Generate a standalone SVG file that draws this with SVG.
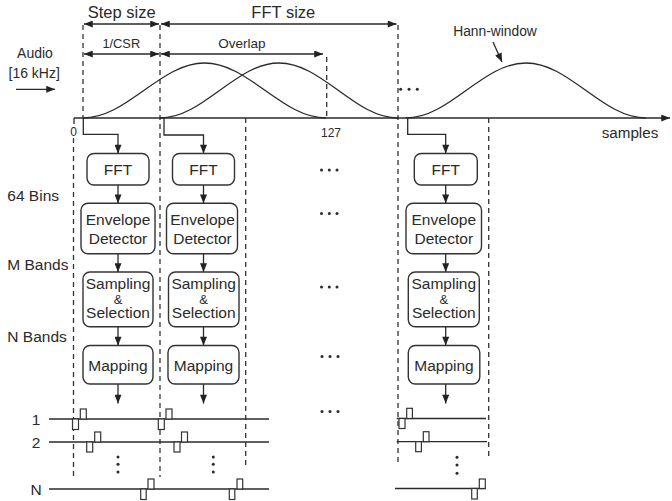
<svg xmlns="http://www.w3.org/2000/svg" width="672" height="501" viewBox="0 0 672 501">
<defs>
<style>
text{font-family:"Liberation Sans",Arial,sans-serif;fill:#2a2a2a}
.lbl{font-size:15.5px}
.bx text{font-size:15.5px;text-anchor:middle}
.bx text.amp{font-size:13px}
.bx rect{fill:#fff;stroke:#333;stroke-width:1.4}
.ln{stroke:#2a2a2a;stroke-width:1.3;fill:none}
.dash{stroke:#333;stroke-width:1.3;stroke-dasharray:5 4;fill:none}
.pl{fill:#fff;stroke:#333;stroke-width:1.2}
.dot{fill:#2a2a2a}
</style>
<marker id="ah" viewBox="0 0 10 8" refX="10" refY="4" markerWidth="10" markerHeight="7" orient="auto-start-reverse" markerUnits="userSpaceOnUse"><path d="M0,0 L10,4 L0,8 z" fill="#222"/></marker>
</defs>
<rect width="672" height="501" fill="#fff"/>

<!-- dashed guides -->
<g id="guides">
<line class="dash" x1="83" y1="25" x2="83" y2="118"/>
<line class="dash" x1="160" y1="25" x2="160" y2="477"/>
<line class="dash" x1="326.7" y1="57" x2="326.7" y2="118"/>
<line class="dash" x1="398" y1="25" x2="398" y2="465"/>
<line class="dash" x1="73.5" y1="138" x2="73.5" y2="479"/>
<line class="dash" x1="245.7" y1="118" x2="245.7" y2="465"/>
<line class="dash" x1="488.7" y1="118" x2="488.7" y2="459"/>
</g>

<!-- top labels and dimension arrows -->
<g id="dims">
<text x="121.7" y="18" style="font-size:16.5px" text-anchor="middle">Step size</text>
<text x="283.3" y="18" style="font-size:16.5px" text-anchor="middle">FFT size</text>
<text x="121.3" y="47.8" style="font-size:12.8px" text-anchor="middle">1/CSR</text>
<text x="242" y="48" style="font-size:13.5px" text-anchor="middle">Overlap</text>
<line class="ln" x1="84" y1="24" x2="159" y2="24" marker-start="url(#ah)" marker-end="url(#ah)"/>
<line class="ln" x1="161" y1="24" x2="396.5" y2="24" marker-start="url(#ah)" marker-end="url(#ah)"/>
<line class="ln" x1="84" y1="54" x2="159" y2="54" marker-start="url(#ah)" marker-end="url(#ah)"/>
<line class="ln" x1="161" y1="54" x2="323" y2="54" marker-start="url(#ah)" marker-end="url(#ah)"/>
</g>

<!-- audio input -->
<g id="audio">
<text x="35" y="58.3" style="font-size:14px" text-anchor="middle">Audio</text>
<text x="34.2" y="77.7" style="font-size:14px" text-anchor="middle">[16 kHz]</text>
<line class="ln" x1="16" y1="89.3" x2="55" y2="89.3" marker-end="url(#ah)"/>
</g>

<!-- windows and axis -->
<g id="windows">
<path class="ln" d="M83,118 C104.99,118 123.94,104.59 143.75,90.5 C163.56,76.41 182.51,63 204.5,63 C226.49,63 245.44,76.41 265.25,90.5 C285.06,104.59 304.01,118 326,118"/>
<path class="ln" d="M160,118 C181.53,118 200.09,104.59 219.5,90.5 C238.91,76.41 257.47,63 279,63 C300.53,63 319.09,76.41 338.5,90.5 C357.91,104.59 376.47,118 398,118"/>
<path class="ln" d="M406,118 C427.72,118 446.43,104.59 466,90.5 C485.57,76.41 504.28,63 526,63 C547.72,63 566.43,76.41 586,90.5 C605.57,104.59 624.28,118 646,118"/>
<line class="ln" x1="74" y1="118" x2="670" y2="118" marker-end="url(#ah)"/>
<line class="ln" x1="74" y1="118" x2="74" y2="124"/>
<text x="73.5" y="136" style="font-size:12px" text-anchor="middle">0</text>
<text x="331" y="137" style="font-size:12px" text-anchor="middle">127</text>
<text x="630" y="138" style="font-size:15.2px" text-anchor="middle">samples</text>
<text x="495" y="36" style="font-size:13.8px" text-anchor="middle">Hann-window</text>
<line class="ln" x1="493" y1="42" x2="502" y2="62" marker-end="url(#ah)"/>
<circle class="dot" cx="400.7" cy="89.3" r="1.5"/><circle class="dot" cx="409" cy="89.3" r="1.5"/><circle class="dot" cx="417.3" cy="89.3" r="1.5"/>
</g>

<!-- side labels -->
<g id="sidelabels">
<text class="lbl" x="7.3" y="200.5">64 Bins</text>
<text class="lbl" x="7.3" y="269.5">M Bands</text>
<text class="lbl" x="7.3" y="342">N Bands</text>
<text class="lbl" x="36" y="424.5" text-anchor="middle">1</text>
<text class="lbl" x="36" y="447.5" text-anchor="middle">2</text>
<text class="lbl" x="36" y="494.5" text-anchor="middle">N</text>
</g>

<!-- column 1 -->
<g id="col1-fft" class="bx"><rect x="87" y="153.5" width="62" height="31.5" rx="7"/><text x="118" y="175.3">FFT</text></g>
<g id="col1-env" class="bx"><rect x="81" y="203.3" width="74" height="50.5" rx="7"/><text x="118" y="225.3">Envelope</text><text x="118" y="244">Detector</text></g>
<g id="col1-samp" class="bx"><rect x="83" y="272" width="70" height="54.7" rx="7"/><text x="118" y="289.3">Sampling</text><text class="amp" x="118" y="304">&amp;</text><text x="118" y="318.3">Selection</text></g>
<g id="col1-map" class="bx"><rect x="83" y="345.5" width="70" height="38.5" rx="7"/><text x="118" y="371">Mapping</text></g>

<!-- column 2 -->
<g id="col2-fft" class="bx"><rect x="172.5" y="153.5" width="62" height="31.5" rx="7"/><text x="203.5" y="175.3">FFT</text></g>
<g id="col2-env" class="bx"><rect x="166.5" y="203.3" width="71" height="50.5" rx="7"/><text x="202.5" y="225.3">Envelope</text><text x="202.5" y="244">Detector</text></g>
<g id="col2-samp" class="bx"><rect x="168.5" y="272" width="70.5" height="54.7" rx="7"/><text x="203.7" y="289.3">Sampling</text><text class="amp" x="203.7" y="304">&amp;</text><text x="203.7" y="318.3">Selection</text></g>
<g id="col2-map" class="bx"><rect x="168" y="345.5" width="71" height="38.5" rx="7"/><text x="203.5" y="371">Mapping</text></g>

<!-- column 3 -->
<g id="col3-fft" class="bx"><rect x="414.3" y="153.5" width="63" height="31.5" rx="7"/><text x="445.8" y="175.3">FFT</text></g>
<g id="col3-env" class="bx"><rect x="406" y="203.3" width="75.5" height="50.5" rx="7"/><text x="443.8" y="225.3">Envelope</text><text x="443.8" y="244">Detector</text></g>
<g id="col3-samp" class="bx"><rect x="408.3" y="272" width="71" height="54.7" rx="7"/><text x="443.8" y="289.3">Sampling</text><text class="amp" x="443.8" y="304">&amp;</text><text x="443.8" y="318.3">Selection</text></g>
<g id="col3-map" class="bx"><rect x="408.3" y="345.5" width="71.5" height="38.5" rx="7"/><text x="444" y="371">Mapping</text></g>

<!-- connectors -->
<g id="connectors">
<path class="ln" d="M83.3,118 V134.3 H118 V153.5" marker-end="url(#ah)"/>
<line class="ln" x1="118" y1="185" x2="118" y2="203.3" marker-end="url(#ah)"/>
<line class="ln" x1="118" y1="253.8" x2="118" y2="272" marker-end="url(#ah)"/>
<line class="ln" x1="118" y1="326.7" x2="118" y2="345.5" marker-end="url(#ah)"/>
<line class="ln" x1="118" y1="384" x2="118" y2="403.5" marker-end="url(#ah)"/>

<path class="ln" d="M164,118 V135 H203.5 V153.5" marker-end="url(#ah)"/>
<line class="ln" x1="203.5" y1="185" x2="203.5" y2="203.3" marker-end="url(#ah)"/>
<line class="ln" x1="203.5" y1="253.8" x2="203.5" y2="272" marker-end="url(#ah)"/>
<line class="ln" x1="203.5" y1="326.7" x2="203.5" y2="345.5" marker-end="url(#ah)"/>
<line class="ln" x1="203.5" y1="384" x2="203.5" y2="403.5" marker-end="url(#ah)"/>

<path class="ln" d="M407.7,118 V134.3 H445.7 V153.5" marker-end="url(#ah)"/>
<line class="ln" x1="445.7" y1="185" x2="445.7" y2="203.3" marker-end="url(#ah)"/>
<line class="ln" x1="445.7" y1="253.8" x2="445.7" y2="272" marker-end="url(#ah)"/>
<line class="ln" x1="445.7" y1="326.7" x2="445.7" y2="345.5" marker-end="url(#ah)"/>
<line class="ln" x1="445.7" y1="384" x2="445.7" y2="403.5" marker-end="url(#ah)"/>
</g>

<!-- ellipses between columns -->
<g id="ellipses">
<circle class="dot" cx="321.5" cy="170" r="1.5"/><circle class="dot" cx="329.3" cy="170" r="1.5"/><circle class="dot" cx="337" cy="170" r="1.5"/>
<circle class="dot" cx="321.5" cy="213.5" r="1.5"/><circle class="dot" cx="329.3" cy="213.5" r="1.5"/><circle class="dot" cx="337" cy="213.5" r="1.5"/>
<circle class="dot" cx="321.5" cy="287" r="1.5"/><circle class="dot" cx="329.3" cy="287" r="1.5"/><circle class="dot" cx="337" cy="287" r="1.5"/>
<circle class="dot" cx="322" cy="356.5" r="1.5"/><circle class="dot" cx="330" cy="356.5" r="1.5"/><circle class="dot" cx="338" cy="356.5" r="1.5"/>
<circle class="dot" cx="322" cy="411.5" r="1.5"/><circle class="dot" cx="330" cy="411.5" r="1.5"/><circle class="dot" cx="338" cy="411.5" r="1.5"/>
</g>

<!-- pulse trains -->
<g id="pulses">
<line class="ln" x1="49" y1="419" x2="269" y2="419"/>
<line class="ln" x1="49" y1="442" x2="269" y2="442"/>
<line class="ln" x1="49" y1="489" x2="269" y2="489"/>
<line class="ln" x1="396.7" y1="418.5" x2="486" y2="418.5"/>
<line class="ln" x1="396.7" y1="441.7" x2="487" y2="441.7"/>
<line class="ln" x1="395" y1="488.5" x2="485.5" y2="488.5"/>

<rect class="pl" x="72.5" y="419" width="6" height="10.5"/><rect class="pl" x="80.3" y="409" width="6" height="10"/>
<rect class="pl" x="158.3" y="419" width="6" height="10.5"/><rect class="pl" x="166" y="409" width="6" height="10"/>
<rect class="pl" x="86.7" y="442" width="6" height="10"/><rect class="pl" x="94.7" y="432" width="6" height="10"/>
<rect class="pl" x="174" y="442" width="6" height="10"/><rect class="pl" x="181.5" y="432" width="6" height="10"/>
<rect class="pl" x="140.7" y="489" width="5.5" height="10.5"/><rect class="pl" x="148" y="479" width="6" height="10"/>
<rect class="pl" x="229.3" y="489" width="5.5" height="10.5"/><rect class="pl" x="237" y="479" width="5.7" height="10"/>

<rect class="pl" x="399" y="418.5" width="6" height="10"/><rect class="pl" x="406.7" y="408.3" width="5.7" height="10.2"/>
<rect class="pl" x="415.7" y="441.7" width="5.7" height="10"/><rect class="pl" x="423.3" y="431.7" width="5.7" height="10"/>
<rect class="pl" x="471.7" y="488.5" width="5.6" height="10.5"/><rect class="pl" x="479.3" y="479" width="6" height="9.5"/>

<circle class="dot" cx="118" cy="457" r="1.5"/><circle class="dot" cx="118" cy="464.3" r="1.5"/><circle class="dot" cx="118" cy="472" r="1.5"/>
<circle class="dot" cx="213.3" cy="457" r="1.5"/><circle class="dot" cx="213.3" cy="464.3" r="1.5"/><circle class="dot" cx="213.3" cy="472" r="1.5"/>
<circle class="dot" cx="457" cy="457.3" r="1.5"/><circle class="dot" cx="457" cy="465" r="1.5"/><circle class="dot" cx="457" cy="473.3" r="1.5"/>
</g>
</svg>
